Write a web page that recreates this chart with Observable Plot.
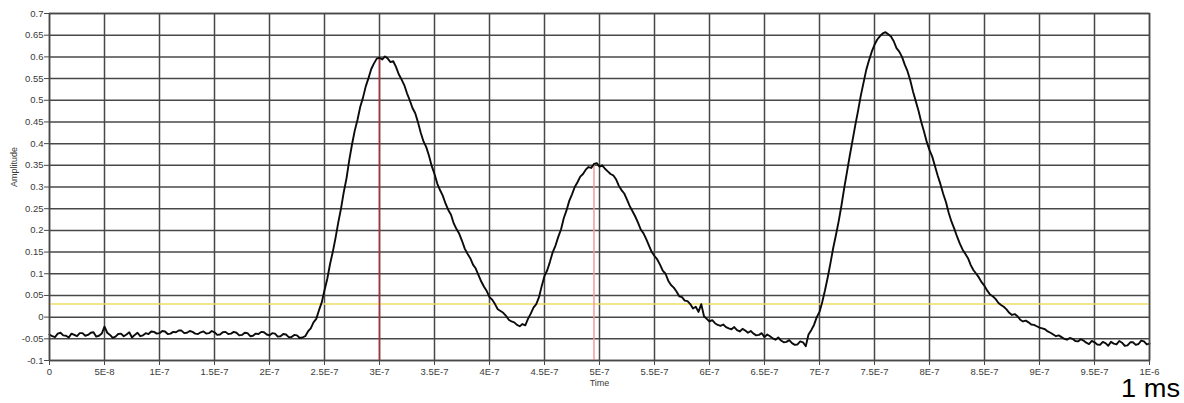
<!DOCTYPE html>
<html>
<head>
<meta charset="utf-8">
<script src="https://cdn.jsdelivr.net/npm/d3@7"></script>
<script src="https://cdn.jsdelivr.net/npm/@observablehq/plot@0.6"></script>
<style>
  html, body { margin: 0; padding: 0; background: #fff; }
  #chart svg { display: block; }
</style>
</head>
<body>
<div id="chart"></div>
<script>
// Sampling interval of the recorded trace (seconds)
const sampleInterval = 2.5e-9;

// Recorded amplitude, one value per sample from 0 to 1E-6 s
const amplitude = [
  -0.040, -0.044, -0.046, -0.038, -0.036, -0.042, -0.043, -0.047, -0.038, -0.041,
  -0.044, -0.037, -0.037, -0.043, -0.041, -0.036, -0.035, -0.045, -0.043, -0.038,
  -0.022, -0.036, -0.041, -0.048, -0.045, -0.039, -0.038, -0.044, -0.040, -0.035,
  -0.047, -0.041, -0.036, -0.044, -0.042, -0.037, -0.039, -0.033, -0.034, -0.038,
  -0.037, -0.032, -0.033, -0.039, -0.038, -0.034, -0.035, -0.031, -0.031, -0.037,
  -0.036, -0.032, -0.034, -0.038, -0.039, -0.035, -0.033, -0.038, -0.037, -0.032,
  -0.035, -0.041, -0.040, -0.035, -0.034, -0.039, -0.038, -0.034, -0.036, -0.042,
  -0.041, -0.036, -0.037, -0.044, -0.043, -0.038, -0.039, -0.034, -0.035, -0.040,
  -0.042, -0.037, -0.038, -0.045, -0.044, -0.039, -0.040, -0.046, -0.046, -0.041,
  -0.042, -0.048, -0.047, -0.044, -0.033, -0.026, -0.012, -0.004, 0.016, 0.034,
  0.062, 0.088, 0.122, 0.150, 0.182, 0.218, 0.250, 0.288, 0.320, 0.362,
  0.398, 0.430, 0.455, 0.485, 0.506, 0.532, 0.551, 0.572, 0.585, 0.596,
  0.598, 0.594, 0.601, 0.596, 0.588, 0.590, 0.577, 0.560, 0.548, 0.535,
  0.516, 0.500, 0.482, 0.470, 0.449, 0.425, 0.405, 0.392, 0.372, 0.348,
  0.330, 0.308, 0.293, 0.280, 0.262, 0.247, 0.236, 0.216, 0.203, 0.192,
  0.176, 0.158, 0.146, 0.136, 0.121, 0.112, 0.097, 0.082, 0.070, 0.060,
  0.046, 0.040, 0.030, 0.018, 0.014, 0.010, 0.003, -0.006, -0.010, -0.012,
  -0.018, -0.021, -0.016, -0.019, -0.004, 0.008, 0.022, 0.030, 0.046, 0.072,
  0.095, 0.108, 0.128, 0.150, 0.165, 0.185, 0.202, 0.228, 0.246, 0.268,
  0.283, 0.300, 0.311, 0.324, 0.330, 0.340, 0.346, 0.344, 0.353, 0.355,
  0.347, 0.350, 0.342, 0.336, 0.330, 0.327, 0.318, 0.303, 0.293, 0.285,
  0.271, 0.256, 0.244, 0.232, 0.218, 0.202, 0.193, 0.180, 0.165, 0.150,
  0.141, 0.133, 0.121, 0.107, 0.100, 0.084, 0.074, 0.068, 0.059, 0.048,
  0.046, 0.038, 0.037, 0.030, 0.020, 0.024, 0.012, 0.030, 0.002, -0.004,
  -0.010, -0.007, -0.014, -0.018, -0.020, -0.017, -0.023, -0.026, -0.028, -0.023,
  -0.030, -0.033, -0.027, -0.031, -0.036, -0.032, -0.038, -0.042, -0.041, -0.037,
  -0.046, -0.040, -0.044, -0.049, -0.052, -0.047, -0.054, -0.058, -0.057, -0.053,
  -0.060, -0.064, -0.063, -0.056, -0.058, -0.067, -0.040, -0.030, -0.018, 0.000,
  0.012, 0.035, 0.062, 0.092, 0.125, 0.160, 0.190, 0.222, 0.258, 0.298,
  0.335, 0.372, 0.407, 0.442, 0.475, 0.510, 0.540, 0.570, 0.592, 0.612,
  0.628, 0.640, 0.648, 0.654, 0.657, 0.652, 0.647, 0.636, 0.620, 0.612,
  0.600, 0.582, 0.567, 0.546, 0.520, 0.498, 0.476, 0.450, 0.428, 0.404,
  0.385, 0.370, 0.348, 0.326, 0.306, 0.284, 0.265, 0.240, 0.220, 0.204,
  0.186, 0.170, 0.156, 0.146, 0.136, 0.120, 0.108, 0.100, 0.091, 0.080,
  0.072, 0.061, 0.052, 0.048, 0.042, 0.033, 0.028, 0.024, 0.018, 0.010,
  0.005, 0.007, 0.002, -0.006, -0.010, -0.008, -0.012, -0.017, -0.018, -0.021,
  -0.024, -0.026, -0.028, -0.033, -0.036, -0.040, -0.044, -0.042, -0.046, -0.050,
  -0.052, -0.048, -0.050, -0.055, -0.056, -0.051, -0.054, -0.059, -0.062, -0.055,
  -0.058, -0.063, -0.064, -0.057, -0.060, -0.066, -0.057, -0.061, -0.063, -0.055,
  -0.059, -0.066, -0.065, -0.058, -0.058, -0.064, -0.062, -0.054, -0.056, -0.063,
  -0.061
];

// Cursor markers: time and the amplitude they reach
const markerTimes = [3e-7, 4.95e-7];
const markerValues = [0.599, 0.354];
const markerColors = ["#a8303c", "#f29aa0"];

// Horizontal threshold level
const thresholdLevel = [0.03];

// Axis ticks and their labels
const xTickValues = [0, 5e-8, 1e-7, 1.5e-7, 2e-7, 2.5e-7, 3e-7, 3.5e-7, 4e-7, 4.5e-7, 5e-7,
  5.5e-7, 6e-7, 6.5e-7, 7e-7, 7.5e-7, 8e-7, 8.5e-7, 9e-7, 9.5e-7, 1e-6];
const xTickLabels = ["0", "5E-8", "1E-7", "1.5E-7", "2E-7", "2.5E-7", "3E-7", "3.5E-7", "4E-7", "4.5E-7", "5E-7",
  "5.5E-7", "6E-7", "6.5E-7", "7E-7", "7.5E-7", "8E-7", "8.5E-7", "9E-7", "9.5E-7", "1E-6"];
const yTickValues = [0.7, 0.65, 0.6, 0.55, 0.5, 0.45, 0.4, 0.35, 0.3, 0.25, 0.2, 0.15, 0.1, 0.05, 0, -0.05, -0.1];
const yTickLabels = ["0.7", "0.65", "0.6", "0.55", "0.5", "0.45", "0.4", "0.35", "0.3", "0.25", "0.2", "0.15", "0.1", "0.05", "0", "-0.05", "-0.1"];

const trace = amplitude.map((v, i) => ({t: i * sampleInterval, v}));
const markers = markerTimes.map((t, i) => ({t, v: markerValues[i], color: markerColors[i]}));

const gridColor = "#484848";

const chart = Plot.plot({
  width: 1184,
  height: 403,
  marginLeft: 49,
  marginRight: 35,
  marginTop: 13,
  marginBottom: 43,
  x: {domain: [0, 1e-6]},
  y: {domain: [-0.1, 0.7]},
  style: {fontFamily: "'Liberation Sans', Arial, sans-serif", fontSize: "9.5px", color: "#3a3a3a", background: "#fff"},
  marks: [
    Plot.gridX(xTickValues, {stroke: gridColor, strokeOpacity: 1, strokeWidth: 1.5}),
    Plot.gridY(yTickValues, {stroke: gridColor, strokeOpacity: 1, strokeWidth: 1.5}),
    Plot.ruleY(thresholdLevel, {stroke: "#f0dc62", strokeWidth: 1.5}),
    Plot.ruleX(markers, {x: "t", y1: -0.1, y2: "v", stroke: "color", strokeWidth: 1.5}),
    Plot.line(trace, {x: "t", y: "v", stroke: "#0c0c0c", strokeWidth: 1.9}),
    Plot.frame({stroke: gridColor, strokeWidth: 1.5}),
    Plot.axisX({
      ticks: xTickValues,
      tickFormat: (d) => xTickLabels[xTickValues.indexOf(d)],
      tickSize: 5,
      tickPadding: 3,
      stroke: gridColor,
      label: null
    }),
    Plot.axisY({
      ticks: yTickValues,
      tickFormat: (d) => yTickLabels[yTickValues.indexOf(d)],
      tickSize: 5,
      tickPadding: 1,
      stroke: gridColor,
      label: null
    }),
    Plot.text(["Time"], {frameAnchor: "bottom", dy: 25, fontSize: 9, fill: "#3a3a3a"}),
    Plot.text(["Amplitude"], {frameAnchor: "left", dx: -35, rotate: -90, fontSize: 9, fill: "#3a3a3a"})
  ]
});

// Scale annotation in the lower right corner
d3.select(chart).append("text")
  .attr("x", 1121)
  .attr("y", 396.5)
  .attr("text-anchor", "start")
  .attr("font-family", "'Liberation Sans', Arial, sans-serif")
  .attr("font-size", 26)
  .attr("textLength", 59)
  .attr("lengthAdjust", "spacingAndGlyphs")
  .attr("fill", "#000")
  .text("1 ms");

document.getElementById("chart").appendChild(chart);
</script>
</body>
</html>
